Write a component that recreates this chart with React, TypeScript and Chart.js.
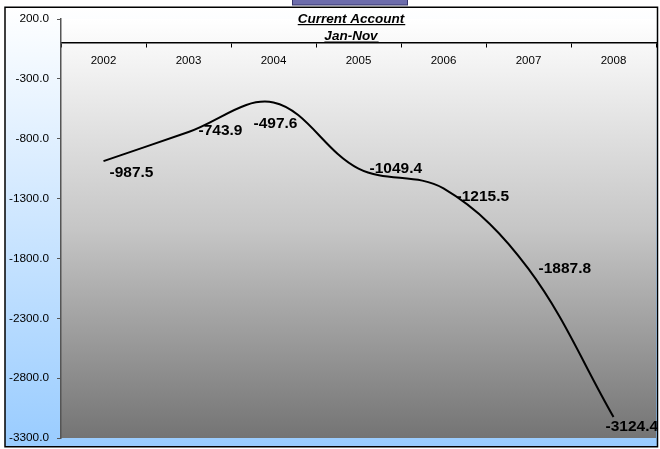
import React, { useEffect, useRef } from "react";
import { Chart, registerables } from "chart.js";

Chart.register(...registerables);

const years = ["2002", "2003", "2004", "2005", "2006", "2007", "2008"];
const currentAccount = [-987.5, -743.9, -497.6, -1049.4, -1215.5, -1887.8, -3124.4];
const yTickValues = [200, -300, -800, -1300, -1800, -2300, -2800, -3300];
const titleLines = ["Current Account", "Jan-Nov"];

const FONT = "Arial, 'Liberation Sans', Helvetica, sans-serif";

// per-point label nudges (style only)
const labelNudges: [number, number][] = [
  [6, 12],
  [10, -1],
  [-20, 21],
  [11, 0],
  [13, 8],
  [10, 0],
  [-8, 10],
];

const backgroundPlugin = {
  id: "bgFrame",
  beforeDraw(chart: any) {
    const { ctx, width, height, chartArea } = chart;
    ctx.save();
    ctx.fillStyle = "#ffffff";
    ctx.fillRect(0, 0, width, height);
    // outer gradient
    const g = ctx.createLinearGradient(0, 7, 0, 447);
    g.addColorStop(0, "#ffffff");
    g.addColorStop(1, "#99ccff");
    ctx.fillStyle = g;
    ctx.fillRect(5, 7, 653, 440);
    // plot area gradient
    const { left, top, right, bottom } = chartArea;
    const g2 = ctx.createLinearGradient(0, top, 0, bottom);
    g2.addColorStop(0, "#ffffff");
    g2.addColorStop(0.5, "#c6c6c6");
    g2.addColorStop(1, "#747474");
    ctx.fillStyle = g2;
    ctx.fillRect(left, top, right - left, bottom - top);
    // frame
    ctx.strokeStyle = "#000000";
    ctx.lineWidth = 1.5;
    ctx.strokeRect(5, 7.25, 652.5, 439.5);
    // small title box at top
    ctx.fillStyle = "#6c6cab";
    ctx.fillRect(292, -2, 116, 7);
    ctx.strokeStyle = "#34346a";
    ctx.lineWidth = 1;
    ctx.strokeRect(292.5, -1.5, 115, 6.5);
    ctx.restore();
  },
};

const overlayPlugin = {
  id: "overlay",
  afterDraw(chart: any) {
    const { ctx } = chart;
    ctx.save();
    // title
    ctx.fillStyle = "#000000";
    ctx.font = `italic bold 13.5px ${FONT}`;
    ctx.textAlign = "center";
    ctx.textBaseline = "alphabetic";
    const cx = 351;
    const baselines = [22.5, 40];
    titleLines.forEach((t, i) => {
      ctx.fillText(t, cx, baselines[i]);
      const w = ctx.measureText(t).width;
      ctx.fillRect(cx - w / 2, baselines[i] + 1.5, w + 1, 1.2);
    });
    // data labels
    const meta = chart.getDatasetMeta(0);
    ctx.font = `bold 15.5px ${FONT}`;
    ctx.textAlign = "left";
    ctx.textBaseline = "middle";
    meta.data.forEach((pt: any, i: number) => {
      const v = currentAccount[i];
      const [dx, dy] = labelNudges[i] || [8, 0];
      ctx.fillText(v.toFixed(1), pt.x + dx, pt.y + dy);
    });
    ctx.restore();
  },
};

export default function App() {
  const canvasRef = useRef<HTMLCanvasElement | null>(null);

  useEffect(() => {
    document.body.style.margin = "0";
    const canvas = canvasRef.current;
    if (!canvas) return;
    const chart = new Chart(canvas, {
      type: "line",
      data: {
        labels: years,
        datasets: [
          {
            label: "Current Account",
            data: currentAccount,
            borderColor: "#000000",
            borderWidth: 2,
            pointRadius: 0,
            fill: false,
            tension: 0.36,
          },
        ],
      },
      options: {
        responsive: false,
        animation: false,
        devicePixelRatio: 1,
        layout: { padding: { left: 0, top: 19, right: 4, bottom: 11 } },
        plugins: {
          legend: { display: false },
          title: { display: false },
          tooltip: { enabled: false },
        },
        scales: {
          x: {
            type: "category",
            position: { y: 0 } as any,
            offset: true,
            afterFit(scale: any) {
              scale.paddingLeft = 0;
              scale.paddingRight = 0;
              scale.paddingTop = 0;
              scale.paddingBottom = 0;
            },
            grid: {
              offset: true,
              drawOnChartArea: false,
              drawTicks: true,
              tickLength: 4,
              color: "#000000",
            },
            border: { display: true, color: "#000000", width: 1.5 },
            ticks: {
              color: "#000000",
              font: { family: FONT, size: 11.5 },
              padding: 7,
              maxRotation: 0,
              autoSkip: false,
            },
          },
          y: {
            type: "linear",
            min: -3300,
            max: 200,
            afterBuildTicks(scale: any) {
              scale.ticks = yTickValues.map((v) => ({ value: v }));
            },
            afterFit(scale: any) {
              scale.width = 61;
              scale.paddingTop = 0;
              scale.paddingBottom = 0;
            },
            grid: {
              drawOnChartArea: false,
              drawTicks: true,
              tickLength: 4,
              color: "#555555",
            },
            border: { display: true, color: "#555555", width: 1.5 },
            ticks: {
              color: "#000000",
              font: { family: FONT, size: 11.8 },
              padding: 8,
              callback: (v: any) => Number(v).toFixed(1),
            },
          },
        },
      },
      plugins: [backgroundPlugin, overlayPlugin],
    });
    return () => chart.destroy();
  }, []);

  return (
    <div style={{ position: "absolute", left: 0, top: 0, width: 660, height: 449 }}>
      <canvas ref={canvasRef} width={660} height={449} style={{ display: "block", width: 660, height: 449 }} />
    </div>
  );
}
